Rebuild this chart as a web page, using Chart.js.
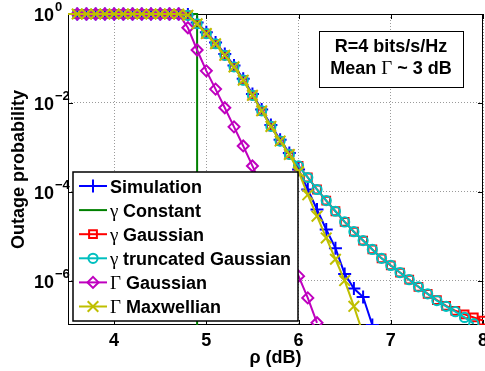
<!DOCTYPE html>
<html>
<head>
<meta charset="utf-8">
<title>Outage probability</title>
<script src="https://cdn.jsdelivr.net/npm/chart.js@4.4.1/dist/chart.umd.min.js"></script>
<style>
  html, body { margin: 0; padding: 0; background: #fff; }
  canvas { display: block; }
</style>
</head>
<body>
<canvas id="outageChart" width="485" height="371"></canvas>
<script>
// ρ (dB) of the computed points, step 0.1 dB
const rho = [3.5, 3.6, 3.7, 3.8, 3.9, 4.0, 4.1, 4.2, 4.3, 4.4,
             4.5, 4.6, 4.7, 4.8, 4.9, 5.0, 5.1, 5.2, 5.3, 5.4,
             5.5, 5.6, 5.7, 5.8, 5.9, 6.0, 6.1, 6.2, 6.3, 6.4,
             6.5, 6.6, 6.7, 6.8, 6.9, 7.0, 7.1, 7.2, 7.3, 7.4,
             7.5, 7.6, 7.7, 7.8, 7.9, 8.0];

// log10(outage probability), one value per rho entry
const simulationExp = [0, 0, 0, 0, 0, 0, 0, 0, 0, 0, 0, 0, 0,
  -0.01, -0.19, -0.41, -0.64, -0.90, -1.16, -1.46, -1.80, -2.15, -2.50, -2.83, -3.13,
  -3.50, -3.95, -4.40, -4.85, -5.27, -5.85, -6.18, -6.37, -7.00];
const gammaGaussExp = [0, 0, 0, 0, 0, 0, 0, 0, 0, 0, 0, 0, 0,
  -0.03, -0.22, -0.44, -0.67, -0.93, -1.19, -1.49, -1.83, -2.18, -2.53, -2.86, -3.16,
  -3.42, -3.68, -3.95, -4.20, -4.44, -4.68, -4.90, -5.10, -5.30, -5.50, -5.66, -5.82,
  -5.98, -6.14, -6.30, -6.44, -6.57, -6.68, -6.76, -6.83, -6.90];
const gammaTruncExp = [0, 0, 0, 0, 0, 0, 0, 0, 0, 0, 0, 0, 0,
  -0.03, -0.22, -0.44, -0.67, -0.93, -1.19, -1.49, -1.83, -2.18, -2.53, -2.86, -3.16,
  -3.42, -3.68, -3.95, -4.20, -4.44, -4.68, -4.90, -5.10, -5.30, -5.50, -5.66, -5.82,
  -5.98, -6.14, -6.30, -6.45, -6.58, -6.70, -6.83, -6.97];
const bigGammaGaussExp = [0, 0, 0, 0, 0, 0, 0, 0, 0, 0, 0, 0, 0,
  -0.31, -0.81, -1.28, -1.69, -2.11, -2.54, -2.97, -3.42, -3.88, -4.36, -4.86, -5.38,
  -5.90, -6.39, -6.95];
const maxwellExp = [0, 0, 0, 0, 0, 0, 0, 0, 0, 0, 0, 0, 0,
  -0.03, -0.22, -0.44, -0.67, -0.93, -1.19, -1.49, -1.83, -2.18, -2.53, -2.86, -3.16,
  -3.55, -4.07, -4.55, -5.04, -5.52, -6.00, -6.58, -7.20];

// constant γ: step from 1 to (practically) 0 at the threshold
const constantRho = [3.5, 4.9, 4.9];
const constantValues = [1, 1, 1e-9];

// axis ticks
const xTickValues = [4, 5, 6, 7, 8];
const xTickLabels = ['4', '5', '6', '7', '8'];
const yTickValues = [1, 1e-2, 1e-4, 1e-6];
const yTickExps = ['0', '\u22122', '\u22124', '\u22126'];

// legend symbols / labels and the text box
const legendSymbols = ['', '\u03b3', '\u03b3', '\u03b3', '\u0393', '\u0393'];
const legendLabels = ['Simulation', 'Constant', 'Gaussian', 'truncated Gaussian', 'Gaussian', 'Maxwellian'];
const noteLine1 = 'R=4 bits/s/Hz';
const noteLine2 = ['Mean ', '\u0393', ' ~ 3 dB'];

const SANS = '"Liberation Sans", Arial, Helvetica, sans-serif';
const SERIF = '"Liberation Serif", "Times New Roman", serif';

function toPoints(exps) {
    return exps.map((e, i) => ({ x: rho[i], y: Math.pow(10, e) }));
}

// estilos de cada curva (orden de la leyenda)
const styles = [
    { color: '#0000ff', point: 'cross',   radius: 6.5 },
    { color: '#008000', point: false,     radius: 0 },
    { color: '#ff0000', point: 'rect',    radius: 5.5 },
    { color: '#00bfbf', point: 'circle',  radius: 4.6 },
    { color: '#bf00bf', point: 'rectRot', radius: 5.5 },
    { color: '#bfbf00', point: 'crossRot', radius: 7.5 }
];

const seriesPoints = [
    toPoints(simulationExp),
    constantRho.map((r, i) => ({ x: r, y: constantValues[i] })),
    toPoints(gammaGaussExp),
    toPoints(gammaTruncExp),
    toPoints(bigGammaGaussExp),
    toPoints(maxwellExp)
];

const datasets = seriesPoints.map((pts, i) => {
    const s = styles[i];
    return {
        label: legendSymbols[i] + ' ' + legendLabels[i],
        data: pts,
        borderColor: s.color,
        borderWidth: 2,
        pointStyle: s.point,
        // the point sitting on the left axis is not marked in the figure
        pointRadius: ctx => (ctx.raw && ctx.raw.x < 3.55 ? 0 : s.radius),
        pointBorderWidth: 2,
        pointBorderColor: s.color,
        pointBackgroundColor: 'rgba(0,0,0,0)',
        order: 6 - i,
        clip: { left: false, top: false, right: false, bottom: 0 }
    };
});

// marco, marcas hacia dentro, etiquetas de ejes, leyenda y cuadro de texto
const decorations = {
    id: 'decorations',
    beforeDatasetsDraw(chart) {
        const { ctx, chartArea: a, scales: { x, y } } = chart;
        ctx.save();
        ctx.strokeStyle = '#000';
        ctx.lineWidth = 1;
        ctx.strokeRect(a.left + 0.5, a.top + 0.5, a.right - a.left - 1, a.bottom - a.top - 1);
        ctx.beginPath();
        xTickValues.forEach(v => {
            const px = Math.round(x.getPixelForValue(v)) + 0.5;
            ctx.moveTo(px, a.bottom); ctx.lineTo(px, a.bottom - 5);
            ctx.moveTo(px, a.top); ctx.lineTo(px, a.top + 5);
        });
        yTickValues.forEach(v => {
            const py = Math.round(y.getPixelForValue(v)) + 0.5;
            ctx.moveTo(a.left, py); ctx.lineTo(a.left + 5, py);
            ctx.moveTo(a.right, py); ctx.lineTo(a.right - 5, py);
        });
        ctx.stroke();

        // x tick labels (the last one runs off the canvas like in the figure)
        ctx.fillStyle = '#000';
        ctx.font = 'bold 18px ' + SANS;
        ctx.textAlign = 'center';
        ctx.textBaseline = 'alphabetic';
        xTickValues.forEach((v, i) => {
            ctx.fillText(xTickLabels[i], x.getPixelForValue(v), a.bottom + 21);
        });
        ctx.restore();
    },
    afterDatasetsDraw(chart) {
        const { ctx, scales: { y } } = chart;
        ctx.save();
        ctx.fillStyle = '#000';

        // y tick labels as 10 with a raised exponent
        yTickValues.forEach((v, i) => {
            const py = y.getPixelForValue(v);
            ctx.font = 'bold 18px ' + SANS;
            ctx.textAlign = 'right';
            ctx.textBaseline = 'alphabetic';
            ctx.fillText('10', 54, py + 7);
            ctx.font = 'bold 13px ' + SANS;
            ctx.textAlign = 'left';
            ctx.fillText(yTickExps[i], 55, py - 3);
        });

        // legend
        const box = { left: 73, top: 172, right: 298, bottom: 321 };
        ctx.fillStyle = '#fff';
        ctx.fillRect(box.left, box.top, box.right - box.left, box.bottom - box.top);
        ctx.strokeStyle = '#000';
        ctx.lineWidth = 1.5;
        ctx.strokeRect(box.left, box.top, box.right - box.left, box.bottom - box.top);
        styles.forEach((s, i) => {
            const ly = 186 + i * 24.1;
            ctx.strokeStyle = s.color;
            ctx.lineWidth = 2;
            ctx.beginPath();
            ctx.moveTo(79, ly); ctx.lineTo(107, ly);
            ctx.stroke();
            if (s.point) {
                ctx.fillStyle = 'rgba(0,0,0,0)';
                Chart.helpers.drawPoint(ctx, { pointStyle: s.point, radius: s.radius, borderWidth: 2, rotation: 0 }, 93, ly);
            }
            ctx.fillStyle = '#000';
            ctx.textAlign = 'left';
            ctx.textBaseline = 'alphabetic';
            let tx = 110;
            if (legendSymbols[i]) {
                ctx.font = '19px ' + SERIF;
                ctx.fillText(legendSymbols[i], tx, ly + 6.5);
                tx += legendSymbols[i] === '\u03b3' ? 13 : 16;
            }
            ctx.font = 'bold 18px ' + SANS;
            ctx.fillText(legendLabels[i], tx, ly + 6.5);
        });

        // text box
        ctx.fillStyle = '#fff';
        ctx.fillRect(319, 31, 145, 57);
        ctx.strokeStyle = '#000';
        ctx.lineWidth = 1;
        ctx.strokeRect(319.5, 31.5, 144, 56);
        ctx.fillStyle = '#000';
        ctx.font = 'bold 18px ' + SANS;
        ctx.textAlign = 'center';
        ctx.fillText(noteLine1, 391, 52);
        const fonts = ['bold 18px ' + SANS, '19px ' + SERIF, 'bold 18px ' + SANS];
        let total = 0;
        const widths = noteLine2.map((t, k) => { ctx.font = fonts[k]; const w = ctx.measureText(t).width; total += w; return w; });
        let nx = 391 - total / 2;
        ctx.textAlign = 'left';
        noteLine2.forEach((t, k) => {
            ctx.font = fonts[k];
            ctx.fillText(t, nx, 74);
            nx += widths[k];
        });
        ctx.restore();
    }
};

const ctx = document.getElementById('outageChart').getContext('2d');
new Chart(ctx, {
    type: 'line',
    data: { datasets: datasets },
    options: {
        responsive: false,
        animation: false,
        events: [],
        layout: { autoPadding: false, padding: { top: 14, right: 2, left: 0, bottom: 0 } },
        plugins: { legend: { display: false }, tooltip: { enabled: false } },
        scales: {
            x: {
                type: 'linear',
                min: 3.5,
                max: 8,
                afterBuildTicks: scale => { scale.ticks = xTickValues.map(v => ({ value: v })); },
                afterFit: scale => { scale.height = 46; },
                ticks: { display: false },
                grid: { color: '#9a9a9a', drawTicks: false, lineWidth: 1 },
                border: { display: false, dash: [1, 2] },
                title: {
                    display: true,
                    text: '\u03c1 (dB)',
                    color: '#000',
                    padding: { top: 0, bottom: 2 },
                    font: { family: SANS, size: 18, weight: 'bold' }
                }
            },
            y: {
                type: 'logarithmic',
                min: 1e-7,
                max: 1,
                afterBuildTicks: scale => { scale.ticks = yTickValues.map(v => ({ value: v })); },
                afterFit: scale => { scale.width = 68; },
                ticks: { display: false },
                grid: { color: '#9a9a9a', drawTicks: false, lineWidth: 1 },
                border: { display: false, dash: [1, 2] },
                title: {
                    display: true,
                    text: 'Outage probability',
                    color: '#000',
                    padding: { top: 8, bottom: 0 },
                    font: { family: SANS, size: 18, weight: 'bold' }
                }
            }
        }
    },
    plugins: [decorations]
});
</script>
</body>
</html>
